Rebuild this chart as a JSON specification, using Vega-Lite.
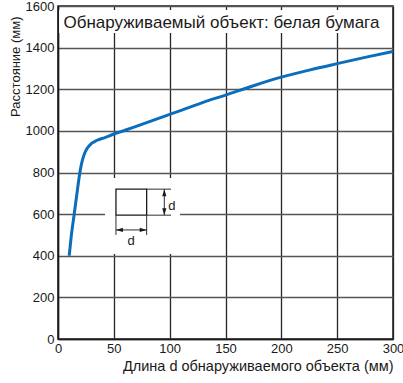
{
  "$schema": "https://vega.github.io/schema/vega-lite/v6.json",
  "width": 335,
  "height": 333,
  "autosize": {"type": "none"},
  "padding": {"left": 58, "top": 6, "right": 10, "bottom": 44},
  "config": {
    "font": "Liberation Sans",
    "view": {"stroke": "#1a1a1a", "strokeWidth": 1.5, "fill": null},
    "axis": {
      "ticks": false,
      "labelFont": "Liberation Sans",
      "titleFont": "Liberation Sans",
      "labelFontSize": 13,
      "titleFontSize": 13,
      "titleFontWeight": "normal",
      "labelColor": "#1a1a1a",
      "titleColor": "#1a1a1a",
      "domainColor": "#1a1a1a",
      "domainWidth": 1.5,
      "gridOpacity": 1,
      "gridWidth": 1.3,
      "gridDash": [],
      "labelFlush": false,
      "labelOverlap": false
    }
  },
  "encoding": {
    "x": {
      "field": "length", "type": "quantitative",
      "scale": {"domain": [0, 300], "nice": false},
      "axis": {
        "values": [0, 50, 100, 150, 200, 250, 300],
        "format": "d",
        "title": "Длина d обнаруживаемого объекта (мм)",
        "titleFontSize": 14.5,
        "titleAnchor": "end",
        "titlePadding": 4,
        "labelPadding": 3,
        "grid": true,
        "gridColor": "#262626"
      }
    },
    "y": {
      "field": "distance", "type": "quantitative",
      "scale": {"domain": [0, 1600], "nice": false},
      "axis": {
        "values": [0, 200, 400, 600, 800, 1000, 1200, 1400, 1600],
        "format": "d",
        "labelFont": "Liberation Sans Narrow, Liberation Sans",
        "title": "Расстояние (мм)",
        "titleAnchor": "end",
        "titleY": 10,
        "titlePadding": 3,
        "labelPadding": 4,
        "grid": true,
        "gridColor": "#555555"
      }
    }
  },
  "layer": [
    {
      "data": {"values": [
        {"length": 1, "length_end": 299, "distance": 1470, "distance_end": 1581},
        {"length": 42.1, "length_end": 109.3, "distance": 408, "distance_end": 774}
      ]},
      "mark": {"type": "rect", "fill": "white", "stroke": null},
      "encoding": {
        "x2": {"field": "length_end"},
        "y2": {"field": "distance_end"}
      }
    },
    {
      "data": {"values": [{"length": 51.9, "length_end": 79.4, "distance": 595, "distance_end": 720}]},
      "mark": {"type": "rect", "fill": null, "stroke": "#1a1a1a", "strokeWidth": 1.3},
      "encoding": {
        "x2": {"field": "length_end"},
        "y2": {"field": "distance_end"}
      }
    },
    {
      "data": {"values": [
        {"length": 79.4, "distance": 720, "length_end": 101.2, "distance_end": 720},
        {"length": 79.4, "distance": 595, "length_end": 101.2, "distance_end": 595},
        {"length": 95.2, "distance": 595, "length_end": 95.2, "distance_end": 720},
        {"length": 51.9, "distance": 595, "length_end": 51.9, "distance_end": 500},
        {"length": 79.4, "distance": 595, "length_end": 79.4, "distance_end": 500},
        {"length": 51.9, "distance": 524, "length_end": 79.4, "distance_end": 524}
      ]},
      "mark": {"type": "rule", "color": "#2e2e2e", "strokeWidth": 1},
      "encoding": {
        "x2": {"field": "length_end"},
        "y2": {"field": "distance_end"}
      }
    },
    {
      "data": {"values": [
        {"length": 10, "distance": 400},
        {"length": 12, "distance": 500},
        {"length": 14.5, "distance": 600},
        {"length": 17, "distance": 700},
        {"length": 19, "distance": 780},
        {"length": 21, "distance": 840},
        {"length": 23, "distance": 880},
        {"length": 26, "distance": 915},
        {"length": 30, "distance": 940},
        {"length": 35, "distance": 955},
        {"length": 42, "distance": 968},
        {"length": 50, "distance": 985},
        {"length": 60, "distance": 1003},
        {"length": 70, "distance": 1022},
        {"length": 80, "distance": 1041},
        {"length": 90, "distance": 1060},
        {"length": 100, "distance": 1079},
        {"length": 115, "distance": 1108},
        {"length": 130, "distance": 1137},
        {"length": 150, "distance": 1172},
        {"length": 175, "distance": 1217},
        {"length": 200, "distance": 1258},
        {"length": 225, "distance": 1292},
        {"length": 250, "distance": 1323},
        {"length": 275, "distance": 1353},
        {"length": 300, "distance": 1382}
      ]},
      "mark": {"type": "line", "color": "#0a6ebd", "strokeWidth": 3, "interpolate": "monotone"}
    },
    {
      "data": {"values": [
        {"length": 95.2, "distance": 720, "dir": "up"},
        {"length": 95.2, "distance": 595, "dir": "down"},
        {"length": 51.9, "distance": 524, "dir": "left"},
        {"length": 79.4, "distance": 524, "dir": "right"}
      ]},
      "mark": {"type": "point", "filled": true, "color": "#1a1a1a", "opacity": 1, "size": 49, "strokeWidth": 0},
      "encoding": {
        "shape": {
          "field": "dir", "type": "nominal", "legend": null,
          "scale": {
            "domain": ["up", "down", "left", "right"],
            "range": ["M0,0L-0.6,2L0.6,2Z", "M0,0L-0.6,-2L0.6,-2Z", "M0,0L2,-0.6L2,0.6Z", "M0,0L-2,-0.6L-2,0.6Z"]
          }
        }
      }
    },
    {
      "data": {"values": [
        {"length": 102, "distance": 639, "label": "d"},
        {"length": 65.4, "distance": 469, "label": "d"}
      ]},
      "mark": {"type": "text", "fontSize": 13, "font": "Liberation Sans", "align": "center", "baseline": "middle", "color": "#1a1a1a"},
      "encoding": {
        "text": {"field": "label"}
      }
    },
    {
      "data": {"values": [{"length": 4.9, "distance": 1518, "label": "Обнаруживаемый объект: белая бумага"}]},
      "mark": {"type": "text", "fontSize": 17, "font": "Liberation Sans", "align": "left", "baseline": "middle", "color": "#1a1a1a"},
      "encoding": {
        "text": {"field": "label"}
      }
    }
  ]
}
